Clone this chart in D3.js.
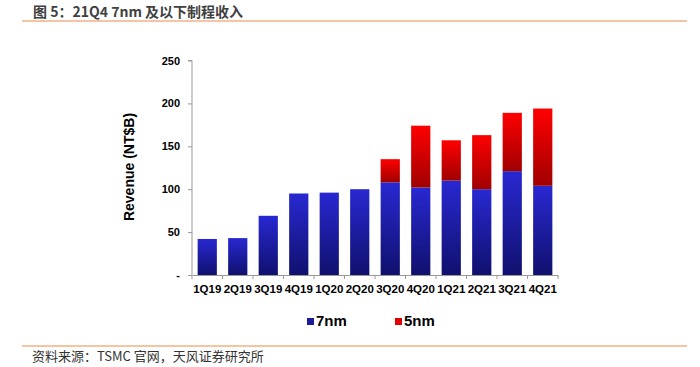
<!DOCTYPE html>
<html>
<head>
<meta charset="utf-8">
<script src="https://cdn.jsdelivr.net/npm/d3@7"></script>
<style>
  body { margin: 0; background: #fff; }
  svg { display: block; }
</style>
</head>
<body>
<svg id="chart" width="700" height="367"></svg>
<script>
const quarters = ['1Q19', '2Q19', '3Q19', '4Q19', '1Q20', '2Q20', '3Q20', '4Q20', '1Q21', '2Q21', '3Q21', '4Q21'];
const rev7nm = [42, 43, 69, 95, 96, 100, 108, 102, 110, 100, 121, 104];
const rev5nm = [0, 0, 0, 0, 0, 0, 27, 72, 47, 63, 68, 90];
const yTicks = [0, 50, 100, 150, 200, 250];
const seriesNames = ['7nm', '5nm'];

const svg = d3.select('#chart');
const [x0, x1, yTop, yBase] = [192, 558, 60.5, 275];

const defs = svg.append('defs');
const grad = (id, top, bottom) => {
  const g = defs.append('linearGradient').attr('id', id).attr('x1', 0).attr('y1', 0).attr('x2', 0).attr('y2', 1);
  g.append('stop').attr('offset', '0%').attr('stop-color', top);
  g.append('stop').attr('offset', '100%').attr('stop-color', bottom);
};
grad('g7', '#2828d2', '#10106e');
grad('g5', '#ff0000', '#a00000');

// title + rules
svg.append('text').attr('x', 33).attr('y', 17)
  .style('font', 'bold 14px "Noto Sans CJK SC", sans-serif').attr('fill', '#404040')
  .text('图 5：21Q4 7nm 及以下制程收入');
svg.append('line').attr('x1', 22).attr('x2', 687).attr('y1', 21).attr('y2', 21)
  .attr('stroke', '#f4b183').attr('stroke-width', 1.5);
svg.append('line').attr('x1', 22).attr('x2', 687).attr('y1', 346).attr('y2', 346)
  .attr('stroke', '#f4b183').attr('stroke-width', 1.5);
svg.append('text').attr('x', 32).attr('y', 361)
  .style('font', '13px "Noto Sans CJK SC", sans-serif').attr('fill', '#333')
  .text('资料来源：TSMC 官网，天风证券研究所');

const x = d3.scaleBand().domain(quarters).range([x0, x1]).paddingInner(0.37).paddingOuter(0.185);
const y = d3.scaleLinear().domain([0, 250]).range([yBase, yTop]);

// y axis
const yAxis = svg.append('g').attr('transform', `translate(${x0},0)`)
  .call(d3.axisLeft(y).tickValues(yTicks).tickSize(4).tickPadding(8)
    .tickFormat(d => d === 0 ? '-' : d));
yAxis.select('.domain').attr('stroke', '#999').attr('d', `M-4,${yTop}H0V${yBase}`);
yAxis.selectAll('.tick line').attr('stroke', '#999');
yAxis.selectAll('text').style('font', 'bold 11px Arial, "Liberation Sans", sans-serif').attr('fill', '#000');

// bars
const stacked = d3.stack().keys([0, 1]).value((d, k) => d[k])(quarters.map((q, i) => [rev7nm[i], rev5nm[i]]));
stacked.forEach((layer, li) => {
  svg.append('g').selectAll('rect').data(layer).enter().append('rect')
    .attr('x', (d, i) => x(quarters[i]))
    .attr('width', x.bandwidth())
    .attr('y', d => y(d[1]))
    .attr('height', d => y(d[0]) - y(d[1]))
    .attr('fill', li === 0 ? 'url(#g7)' : 'url(#g5)');
});

// x axis
const xAxis = svg.append('g').attr('transform', `translate(0,${yBase})`)
  .call(d3.axisBottom(x).tickSize(0).tickPadding(10));
xAxis.select('.domain').attr('stroke', '#999');
xAxis.selectAll('text').style('font', 'bold 11.5px Arial, "Liberation Sans", sans-serif').attr('fill', '#000');
xAxis.selectAll('.sep').data(d3.range(quarters.length + 1)).enter().append('line')
  .attr('x1', i => x0 + i * x.step()).attr('x2', i => x0 + i * x.step())
  .attr('y1', 0).attr('y2', 4).attr('stroke', '#999');

// axis title
svg.append('text').attr('transform', 'translate(134,167) rotate(-90)')
  .attr('text-anchor', 'middle')
  .style('font', 'bold 14px Arial, "Liberation Sans", sans-serif').attr('fill', '#000')
  .text('Revenue (NT$B)');

// legend
const legend = svg.append('g').selectAll('g').data(seriesNames).enter().append('g')
  .attr('transform', (d, i) => `translate(${307 + i * 88},318)`);
legend.append('rect').attr('width', 7).attr('height', 7)
  .attr('fill', (d, i) => i === 0 ? '#1a1a9a' : '#e00000');
legend.append('text').attr('x', 9).attr('y', 8)
  .style('font', 'bold 15px Arial, "Liberation Sans", sans-serif').attr('fill', '#000')
  .text(d => d);
</script>
</body>
</html>
